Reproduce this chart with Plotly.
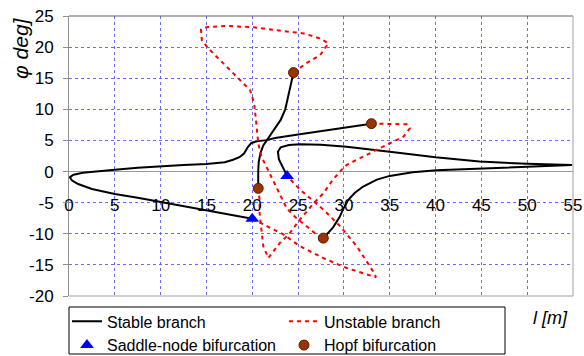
import plotly.graph_objects as go

# ---- data ----
# Stable branches (black solid)
stable_a_l = [20.0, 17.5, 15.0, 12.5, 10.0, 7.5, 5.0, 2.5, 1.0, 0.3, 0.1, 0.5, 1.5, 3.0, 5.0, 7.5, 10.0, 12.5, 15.0, 17.0, 17.9, 18.6, 19.1, 19.5, 19.9, 20.5, 21.5, 22.5, 25.0, 27.5, 30.0, 33.0]
stable_a_phi = [-7.6, -6.9, -6.2, -5.5, -4.8, -4.2, -3.6, -2.8, -2.0, -1.4, -0.9, -0.5, -0.2, 0.05, 0.3, 0.6, 0.85, 1.05, 1.2, 1.5, 1.9, 2.3, 2.9, 3.9, 4.6, 4.85, 5.05, 5.4, 5.95, 6.5, 7.0, 7.7]

stable_b_l = [24.5, 24.2, 23.9, 23.6, 23.1, 22.5, 21.75, 21.2, 20.9, 20.7, 20.65, 20.65]
stable_b_phi = [15.9, 14.0, 12.0, 10.0, 8.3, 7.0, 5.4, 4.2, 3.0, 1.5, 0.0, -2.7]

stable_c_l = [23.8, 23.3, 22.9, 22.8, 23.1, 24.0, 25.2, 27.5, 30.3, 35.0, 37.6, 40.0, 44.8, 50.0, 54.9, 50.3, 44.8, 40.1, 37.5, 35.0, 33.6, 32.1, 31.2, 30.5, 30.0, 29.5, 28.8, 27.75]
stable_c_phi = [-0.7, 0.8, 2.0, 3.2, 3.9, 4.25, 4.4, 4.3, 4.0, 3.2, 2.7, 2.3, 1.6, 1.25, 1.05, 0.8, 0.55, 0.2, -0.1, -0.7, -1.3, -2.4, -3.4, -4.5, -5.8, -7.4, -9.0, -10.7]

# Unstable branches (red dashed)
unstable_a_l = [24.5, 25.9, 27.4, 28.3, 27.4, 25.6, 22.7, 20.1, 17.2, 15.0, 14.4, 14.5, 15.2, 17.6, 19.0, 19.75, 20.2, 20.3, 20.4, 20.65, 21.0, 21.9, 23.0, 23.75, 24.6, 26.3, 27.0, 27.75]
unstable_a_phi = [15.9, 17.4, 18.7, 20.6, 21.4, 22.2, 22.7, 23.2, 23.4, 23.2, 22.8, 21.1, 19.8, 16.3, 14.2, 13.1, 11.0, 9.9, 8.3, 4.55, 2.4, -0.3, -3.5, -5.9, -7.2, -9.3, -10.1, -10.7]

unstable_b_l = [33.0, 35.0, 36.85, 37.2, 36.5, 35.0, 33.6, 31.75, 30.3, 29.75, 28.8, 27.75, 26.7, 25.2, 24.1, 23.0, 21.75, 21.2, 21.0, 20.8, 20.8, 20.65]
unstable_b_phi = [7.7, 7.65, 7.6, 6.95, 5.6, 4.55, 3.5, 2.15, 1.07, 0.27, -1.3, -3.5, -5.1, -7.7, -9.9, -11.5, -13.9, -12.0, -9.3, -6.7, -4.5, -2.7]

unstable_c_l = [20.0, 21.0, 23.4, 25.2, 27.75, 30.3, 32.5, 33.5, 33.3, 32.8, 31.4, 29.6, 27.75, 25.2, 24.1, 23.8]
unstable_c_phi = [-7.6, -8.3, -10.1, -12.0, -13.9, -15.5, -16.6, -17.0, -16.3, -15.2, -12.0, -8.8, -6.1, -2.9, -1.2, -0.7]

# Bifurcation points
saddle_l = [20.0, 23.8]
saddle_phi = [-7.6, -0.7]
hopf_l = [24.5, 33.0, 20.65, 27.75]
hopf_phi = [15.9, 7.7, -2.7, -10.7]

# axis ticks
x_ticks = list(range(0, 56, 5))
y_ticks = list(range(-20, 26, 5))


def join(*segs):
    xs, ys = [], []
    for sx, sy in segs:
        xs += list(sx) + [None]
        ys += list(sy) + [None]
    return xs[:-1], ys[:-1]


FONT = "Liberation Sans, Arial, sans-serif"

sx, sy = join((stable_a_l, stable_a_phi), (stable_b_l, stable_b_phi), (stable_c_l, stable_c_phi))
ux, uy = join((unstable_a_l, unstable_a_phi), (unstable_b_l, unstable_b_phi), (unstable_c_l, unstable_c_phi))

fig = go.Figure()
fig.add_trace(go.Scatter(x=sx, y=sy, mode="lines", name="Stable branch",
                         line=dict(color="black", width=2), connectgaps=False))
fig.add_trace(go.Scatter(x=ux, y=uy, mode="lines", name="Unstable branch",
                         line=dict(color="#ff0000", width=2, dash="4px,4px"), connectgaps=False))
fig.add_trace(go.Scatter(x=saddle_l, y=saddle_phi, mode="markers", name="Saddle-node bifurcation",
                         marker=dict(symbol="triangle-up", size=12, color="#0000ff")))
fig.add_trace(go.Scatter(x=hopf_l, y=hopf_phi, mode="markers", name="Hopf bifurcation",
                         marker=dict(symbol="circle", size=10, color="#993300",
                                     line=dict(color="#5a1e00", width=1))))

grid = "rgba(90,90,255,0.9)"
fig.update_layout(
    width=584, height=356,
    margin=dict(l=69, r=11, t=16, b=60, autoexpand=False),
    paper_bgcolor="white", plot_bgcolor="white",
    font=dict(family=FONT, size=17, color="black"),
    showlegend=True,
    legend=dict(orientation="h", x=-0.004, xanchor="left", y=-0.03, yanchor="top",
                entrywidth=172, entrywidthmode="pixels",
                font=dict(family=FONT, size=16, color="black"),
                bgcolor="rgba(0,0,0,0)", borderwidth=0, tracegroupgap=0),
    xaxis=dict(range=[0, 55], tickvals=x_ticks, ticktext=[str(v) for v in x_ticks],
               showgrid=True, gridcolor=grid, griddash="dot", gridwidth=1,
               zeroline=False, showline=False, ticks="",
               anchor="free", position=20 / 45, ticklabelstandoff=21,
               tickfont=dict(family=FONT, size=17, color="black")),
    yaxis=dict(range=[-20, 25], tickvals=y_ticks, ticktext=[str(v) for v in y_ticks],
               showgrid=True, gridcolor=grid, griddash="dot", gridwidth=1,
               zeroline=True, zerolinecolor="#999999", zerolinewidth=1,
               showline=True, linecolor="#909090", linewidth=1,
               ticks="outside", ticklen=5, tickcolor="#909090", ticklabelstandoff=6,
               tickfont=dict(family=FONT, size=17, color="black")),
)

# frame of the plot area
fig.add_shape(type="line", xref="paper", yref="paper", x0=0, x1=1, y0=1, y1=1,
              line=dict(color="#606060", width=1))
fig.add_shape(type="line", xref="paper", yref="paper", x0=1, x1=1, y0=0, y1=1,
              line=dict(color="#a0a0a0", width=1))
fig.add_shape(type="line", xref="paper", yref="paper", x0=0, x1=1, y0=0, y1=0,
              line=dict(color="#a0a0a0", width=1))

# legend box
fig.add_shape(type="rect", xref="paper", yref="paper",
              x0=0.0, x1=(505 - 69) / 504, y0=(296 - 354) / 280, y1=(296 - 307) / 280,
              line=dict(color="black", width=1))

# axis titles
fig.add_annotation(xref="paper", yref="paper", x=(550 - 69) / 504, y=(296 - 318) / 280,
                   text="<i>l [m]</i>", showarrow=False, xanchor="center", yanchor="middle",
                   font=dict(family=FONT, size=18, color="black"))
fig.add_annotation(xref="paper", yref="paper", x=(20 - 69) / 504, y=(296 - 48) / 280,
                   text="<i>φ deg]</i>", showarrow=False, textangle=-90,
                   xanchor="center", yanchor="middle",
                   font=dict(family=FONT, size=21, color="black"))

fig.write_html("out.html")
